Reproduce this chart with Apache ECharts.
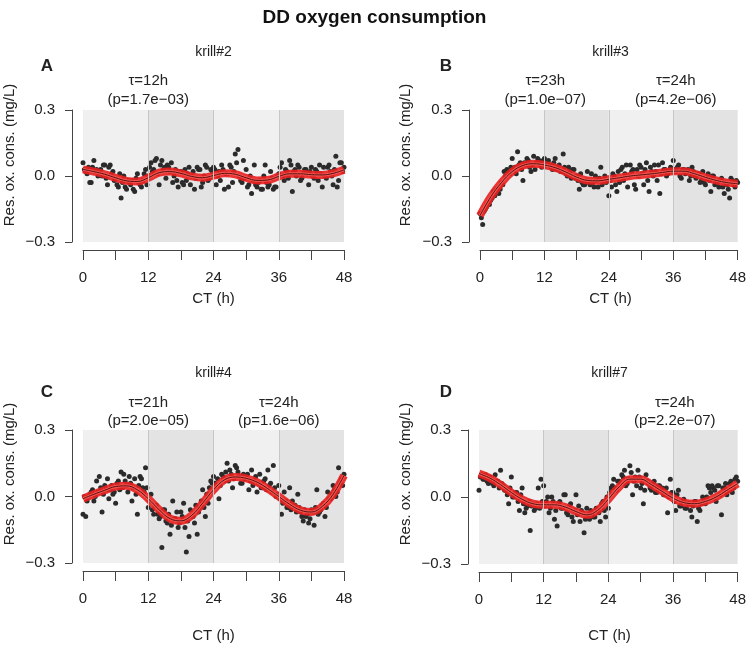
<!DOCTYPE html>
<html>
<head>
<meta charset="utf-8">
<script src="https://cdn.jsdelivr.net/npm/echarts@6/dist/echarts.min.js"></script>
<style>
  html, body { margin: 0; padding: 0; background: #fff; }
  #main { width: 749px; height: 647px; }
</style>
</head>
<body>
<div id="main"></div>
<script>
// sampling times (h) of the scatter points, on the hour and half hour
const TIMES = [0,0.5,1,1.5,2,2.5,3,3.5,4,4.5,5,5.5,6,6.5,7,7.5,8,8.5,9,9.5,10,10.5,11,11.5,
  12,12.5,13,13.5,14,14.5,15,15.5,16,16.5,17,17.5,18,18.5,19,19.5,20,20.5,21,21.5,22,22.5,23,23.5,
  24,24.5,25,25.5,26,26.5,27,27.5,28,28.5,29,29.5,30,30.5,31,31.5,32,32.5,33,33.5,34,34.5,35,35.5,
  36,36.5,37,37.5,38,38.5,39,39.5,40,40.5,41,41.5,42,42.5,43,43.5,44,44.5,45,45.5,46,46.5,47,47.5,48];
// ...and the quarter hours in between
const TIMES_Q = [0.25,0.75,1.25,1.75,2.25,2.75,3.25,3.75,4.25,4.75,5.25,5.75,6.25,6.75,7.25,7.75,8.25,8.75,9.25,9.75,10.25,10.75,11.25,11.75,
  12.25,12.75,13.25,13.75,14.25,14.75,15.25,15.75,16.25,16.75,17.25,17.75,18.25,18.75,19.25,19.75,20.25,20.75,21.25,21.75,22.25,22.75,23.25,23.75,
  24.25,24.75,25.25,25.75,26.25,26.75,27.25,27.75,28.25,28.75,29.25,29.75,30.25,30.75,31.25,31.75,32.25,32.75,33.25,33.75,34.25,34.75,35.25,35.75,
  36.25,36.75,37.25,37.75,38.25,38.75,39.25,39.75,40.25,40.75,41.25,41.75,42.25,42.75,43.25,43.75,44.25,44.75,45.25,45.75,46.25,46.75,47.25,47.75];
// times of the fitted curves
const FIT_TIMES = [0,2,4,6,8,10,12,14,16,18,20,22,24,26,28,30,32,34,36,38,40,42,44,46,48];

// residual oxygen consumption (mg/L)
const krill2 = [
  0.06,0.02,0.04,-0.03,0.07,0.03,0.02,0.00,0.05,-0.04,0.05,0.02,
  -0.01,-0.05,-0.10,0.00,-0.06,-0.03,-0.02,-0.07,0.01,-0.04,-0.02,0.03,
  0.00,0.06,0.03,0.08,-0.04,0.07,0.04,0.05,0.02,-0.03,0.03,-0.05,
  0.02,-0.04,-0.02,0.04,0.00,-0.06,0.04,0.03,-0.03,0.05,-0.02,0.03,
  0.04,-0.04,0.02,0.05,-0.06,0.01,0.05,-0.03,0.10,0.12,-0.02,0.07,
  0.03,-0.04,-0.08,0.05,-0.05,-0.02,-0.06,0.05,-0.05,0.02,-0.06,-0.05,
  0.01,0.06,-0.02,0.02,0.07,-0.07,0.03,0.05,-0.02,0.01,0.03,-0.04,
  0.04,-0.01,0.02,0.05,-0.05,0.00,0.04,0.02,-0.04,0.09,-0.02,0.06,
  0.04];
const krill2q = [
  0.03,0.01,-0.03,0.04,0.02,0.00,0.03,0.05,-0.01,0.04,0.01,-0.02,
  -0.04,0.01,-0.03,-0.05,-0.02,-0.04,-0.06,-0.01,-0.03,-0.05,0.01,-0.04,
  0.04,0.02,0.07,0.01,0.05,0.03,-0.01,0.04,0.06,0.00,-0.02,0.02,
  -0.03,0.03,0.01,-0.04,0.02,-0.01,0.03,-0.05,0.00,0.04,-0.01,0.02,
  0.03,0.00,-0.02,0.03,0.01,-0.05,0.04,0.02,0.06,0.00,-0.03,-0.01,
  -0.05,0.00,-0.02,-0.04,-0.03,-0.06,0.00,-0.03,-0.04,-0.01,-0.05,0.00,
  0.04,0.00,0.03,-0.01,0.05,0.02,0.00,0.04,-0.01,0.03,0.01,0.02,
  0.00,0.03,-0.02,0.01,0.04,-0.01,0.05,0.00,0.03,-0.05,0.06,0.02];
const krill3 = [
  -0.17,-0.22,-0.15,-0.12,-0.11,-0.07,-0.06,-0.08,-0.03,0.02,0.03,0.01,
  0.08,0.04,0.11,0.06,-0.02,0.05,0.07,0.02,0.09,0.06,0.07,0.04,
  0.08,0.06,0.05,0.03,0.08,0.04,0.02,0.10,0.01,0.04,-0.01,0.03,
  0.00,-0.06,-0.03,-0.04,0.02,-0.04,-0.03,0.00,-0.05,0.04,-0.02,-0.03,
  -0.09,-0.05,0.00,-0.07,-0.03,0.04,0.01,-0.05,0.05,0.03,-0.06,0.00,
  0.04,-0.04,0.06,-0.07,0.02,0.05,-0.02,-0.08,0.06,0.03,0.01,0.04,
  0.07,0.02,0.05,-0.01,0.03,0.02,-0.02,0.04,0.00,0.01,-0.03,0.02,
  -0.04,0.01,-0.07,0.00,-0.03,-0.05,-0.01,-0.08,-0.04,-0.10,-0.02,-0.05,
  -0.03];
const krill3q = [
  -0.19,-0.16,-0.14,-0.13,-0.10,-0.09,-0.07,-0.06,-0.04,0.00,0.02,0.04,
  0.03,0.01,0.05,0.03,0.06,0.08,0.04,0.05,0.03,0.08,0.05,0.07,
  0.05,0.07,0.04,0.06,0.03,0.05,0.02,0.04,0.00,0.02,0.03,-0.01,
  -0.02,0.01,-0.04,-0.02,-0.03,0.01,-0.05,-0.02,-0.01,-0.04,0.00,-0.02,
  -0.02,0.01,-0.04,0.02,0.03,-0.02,0.05,0.00,0.02,-0.04,0.03,0.05,
  0.01,0.03,-0.02,0.04,0.00,0.02,0.05,0.01,0.03,0.00,0.02,0.03,
  0.03,0.04,0.00,0.03,0.01,0.03,0.00,0.02,-0.01,0.01,-0.02,-0.03,
  -0.01,-0.02,0.00,-0.04,-0.03,-0.02,-0.05,-0.03,-0.06,-0.01,-0.04,-0.02];
const krill4 = [
  -0.08,-0.09,0.00,0.02,-0.02,0.07,0.09,-0.07,0.05,0.08,0.03,0.01,
  -0.03,0.07,0.11,0.10,0.05,0.09,-0.02,0.08,-0.08,0.09,0.04,0.13,
  -0.05,0.01,-0.08,-0.04,-0.10,-0.23,-0.06,-0.12,-0.17,-0.02,-0.10,-0.14,
  -0.07,-0.03,-0.25,-0.18,-0.09,-0.12,-0.17,-0.05,0.03,-0.09,-0.03,0.07,
  0.09,0.05,-0.01,0.10,0.07,0.15,0.12,0.04,0.14,0.11,0.06,0.10,
  0.09,0.03,0.12,0.07,0.02,0.10,0.04,0.08,0.12,0.06,0.14,0.00,
  0.05,-0.08,0.02,-0.05,0.04,-0.02,-0.04,0.01,-0.07,-0.11,-0.09,-0.12,
  -0.06,-0.13,0.03,-0.07,-0.04,-0.09,0.02,-0.01,0.05,0.00,0.13,0.08,
  0.10];
const krill4q = [
  0.00,-0.02,0.01,0.03,0.00,0.02,0.04,0.01,0.03,-0.01,0.05,0.02,
  0.06,0.03,0.04,0.07,0.02,0.06,0.04,0.01,0.05,0.08,0.02,0.04,
  -0.02,-0.06,-0.04,-0.08,-0.09,-0.06,-0.11,-0.08,-0.13,-0.10,-0.07,-0.12,
  -0.09,-0.14,-0.11,-0.06,-0.09,-0.04,-0.07,-0.02,-0.05,0.01,0.04,0.06,
  0.06,0.08,0.05,0.09,0.11,0.07,0.10,0.08,0.13,0.09,0.06,0.08,
  0.10,0.07,0.05,0.09,0.06,0.04,0.07,0.03,0.05,0.02,0.04,0.01,
  -0.01,-0.03,-0.02,-0.05,-0.06,-0.04,-0.07,-0.05,-0.09,-0.06,-0.08,-0.10,
  -0.07,-0.05,-0.08,-0.06,-0.03,-0.05,-0.01,0.01,0.03,0.02,0.06,0.05];
const krill7 = [
  0.03,0.10,0.08,0.07,0.09,0.06,0.10,0.07,0.12,0.05,0.03,-0.03,
  0.09,0.00,0.02,-0.06,0.04,-0.07,-0.04,-0.15,-0.03,-0.05,0.04,0.08,
  0.05,-0.02,-0.07,0.00,-0.10,-0.13,-0.02,-0.05,0.01,-0.08,-0.03,-0.11,
  0.01,-0.04,-0.06,-0.16,-0.05,-0.10,-0.07,-0.09,-0.06,-0.11,-0.02,-0.09,
  -0.05,0.04,0.08,0.03,0.07,0.10,0.12,0.06,0.14,0.01,0.09,0.12,
  0.04,-0.03,0.10,0.06,0.03,0.07,0.02,0.05,0.04,0.01,-0.07,0.08,
  0.02,-0.06,0.03,-0.04,-0.01,-0.05,-0.03,-0.09,-0.02,-0.11,-0.06,0.00,
  -0.03,0.05,0.02,0.04,-0.02,0.05,-0.08,0.04,0.01,0.06,0.02,0.08,
  0.07];
const krill7q = [
  0.09,0.08,0.10,0.06,0.08,0.05,0.07,0.04,0.06,0.03,0.01,0.04,
  0.00,0.02,-0.02,0.01,-0.03,-0.05,-0.02,-0.04,-0.06,-0.03,-0.05,-0.02,
  -0.04,0.00,-0.05,-0.02,-0.06,-0.03,-0.05,0.01,-0.07,-0.04,-0.09,-0.06,
  -0.08,-0.11,-0.07,-0.10,-0.08,-0.06,-0.09,-0.05,-0.07,-0.03,-0.06,0.00,
  0.02,0.05,0.04,0.07,0.06,0.09,0.05,0.08,0.11,0.07,0.05,0.09,
  0.06,0.03,0.07,0.04,0.06,0.02,0.05,0.03,0.01,0.04,0.00,0.02,
  -0.02,0.01,-0.04,-0.02,-0.05,-0.03,-0.06,-0.04,-0.02,-0.05,-0.03,-0.01,
  0.00,0.04,0.05,0.03,0.05,0.01,0.04,0.06,0.03,0.07,0.04,0.09];

// fitted curves
const fit2 = [0.03,0.02,0.008,-0.008,-0.022,-0.025,-0.008,0.015,0.02,0.012,-0.002,-0.008,0.002,
  0.012,0.008,-0.008,-0.02,-0.018,-0.002,0.01,0.01,0.006,0.005,0.012,0.028];
const fit3 = [-0.18,-0.095,-0.03,0.02,0.048,0.056,0.05,0.038,0.018,-0.005,-0.02,-0.022,-0.015,
  -0.008,0.0,0.005,0.01,0.016,0.022,0.022,0.01,-0.006,-0.02,-0.03,-0.035];
const fit4 = [-0.01,0.01,0.028,0.045,0.048,0.03,-0.01,-0.06,-0.1,-0.11,-0.085,-0.03,0.03,
  0.075,0.088,0.082,0.065,0.035,0.0,-0.035,-0.062,-0.07,-0.045,0.01,0.095];
const fit7 = [0.105,0.085,0.055,0.02,-0.01,-0.03,-0.035,-0.035,-0.045,-0.065,-0.08,-0.06,-0.01,
  0.045,0.08,0.08,0.055,0.025,-0.005,-0.025,-0.03,-0.02,0.0,0.03,0.06];

const PANEL_NAMES = ['krill#2', 'krill#3', 'krill#4', 'krill#7'];
const PANEL_LETTERS = ['A', 'B', 'C', 'D'];
const X_TICKS = [0, 12, 24, 36, 48];
// periodicity annotations: [panel, x centre (h), tau, p]
const TAUS = [
  [0, 12, 'τ=12h', '(p=1.7e\u221203)'],
  [1, 12, 'τ=23h', '(p=1.0e\u221207)'],
  [1, 36, 'τ=24h', '(p=4.2e\u221206)'],
  [2, 12, 'τ=21h', '(p=2.0e\u221205)'],
  [2, 36, 'τ=24h', '(p=1.6e\u221206)'],
  [3, 36, 'τ=24h', '(p=2.2e\u221207)']
];
const BANDS = [[0, 12, '#f0f0f0'], [12, 24, '#e3e3e3'], [24, 36, '#f0f0f0'], [36, 48, '#e3e3e3']];
const BAND_LINES = [12, 24, 36];

const points = [krill2, krill3, krill4, krill7];
const pointsQ = [krill2q, krill3q, krill4q, krill7q];
const fits = [fit2, fit3, fit4, fit7];

const FONT = 'Liberation Sans, Arial, sans-serif';
const grids = [
  { left: 83, top: 110, width: 261, height: 132 },
  { left: 480, top: 110, width: 261, height: 132 },
  { left: 83, top: 430, width: 261, height: 133 },
  { left: 479, top: 430, width: 261, height: 134 }
];

const xAxes = [], yAxes = [], series = [], graphics = [];

function label(x, y, text, font, rot) {
  return {
    type: 'text', x: x, y: y, rotation: rot || 0, silent: true,
    style: { text: text, font: font, fill: '#222', align: 'center', verticalAlign: 'middle' }
  };
}

grids.forEach((g, i) => {
  xAxes.push({
    gridIndex: i, type: 'value', min: 0, max: 48, interval: 6, offset: 8,
    axisLine: { show: true, onZero: false, lineStyle: { color: '#444', width: 1 } },
    axisTick: { show: true, length: 10, lineStyle: { color: '#444' } },
    axisLabel: {
      margin: 20, fontSize: 15, color: '#222', fontFamily: FONT,
      formatter: v => X_TICKS.indexOf(v) >= 0 ? String(v) : ''
    },
    splitLine: { show: false }
  });
  yAxes.push({
    gridIndex: i, type: 'value', min: -0.3, max: 0.3, interval: 0.3, offset: 11,
    axisLine: { show: true, onZero: false, lineStyle: { color: '#444', width: 1 } },
    axisTick: { show: true, length: 7, lineStyle: { color: '#444' } },
    axisLabel: {
      margin: 17, fontSize: 15, color: '#222', fontFamily: FONT,
      formatter: v => {
        const s = (Math.abs(v) < 1e-9 ? 0 : v).toFixed(1);
        return s.replace('-', '\u2212');
      }
    },
    splitLine: { show: false }
  });

  // background bands carried by an empty series
  series.push({
    type: 'line', xAxisIndex: i, yAxisIndex: i, data: [], silent: true,
    markArea: {
      silent: true,
      data: BANDS.map(b => [{ xAxis: b[0], itemStyle: { color: b[2] } }, { xAxis: b[1] }])
    },
    markLine: {
      silent: true, symbol: 'none', label: { show: false },
      lineStyle: { color: '#c6c6c6', width: 1, type: 'solid' },
      data: BAND_LINES.map(v => ({ xAxis: v }))
    }
  });

  const pts = TIMES.map((t, k) => [t, points[i][k]])
    .concat(TIMES_Q.map((t, k) => [t, pointsQ[i][k]]));
  series.push({
    type: 'scatter', xAxisIndex: i, yAxisIndex: i, symbolSize: 5, z: 3,
    itemStyle: { color: '#2b2b2b', opacity: 1 },
    data: pts
  });

  const fitData = FIT_TIMES.map((t, k) => [t, fits[i][k]]);
  series.push({
    type: 'line', xAxisIndex: i, yAxisIndex: i, data: fitData, smooth: 0.4,
    symbol: 'none', silent: true, z: 4,
    lineStyle: { color: '#ea2020', width: 8, opacity: 0.9 }
  });
  series.push({
    type: 'line', xAxisIndex: i, yAxisIndex: i, data: fitData, smooth: 0.4,
    symbol: 'none', silent: true, z: 4,
    lineStyle: { color: '#f25550', width: 3 }
  });
  series.push({
    type: 'line', xAxisIndex: i, yAxisIndex: i, data: fitData, smooth: 0.4,
    symbol: 'none', silent: true, z: 4,
    lineStyle: { color: '#5a1010', width: 1 }
  });

  const cx = g.left + g.width / 2;
  const top = i < 2;
  graphics.push(label(cx, top ? 52 : 373, PANEL_NAMES[i], '14px ' + FONT));
  graphics.push(label(i % 2 ? 446 : 47, top ? 66 : 392, PANEL_LETTERS[i], 'bold 17px ' + FONT));
  graphics.push(label(cx, top ? 299 : 636, 'CT (h)', '15px ' + FONT));
  graphics.push(label(i % 2 ? 406 : 10, top ? 155 : 474, 'Res. ox. cons. (mg/L)', '15px ' + FONT, Math.PI / 2));
});

TAUS.forEach(a => {
  const g = grids[a[0]];
  const x = g.left + a[1] / 48 * g.width;
  const top = a[0] < 2;
  graphics.push(label(x, top ? 81 : 403, a[2], '15px ' + FONT));
  graphics.push(label(x, top ? 100 : 421, a[3], '15px ' + FONT));
});

const chart = echarts.init(document.getElementById('main'), null, { renderer: 'canvas' });
chart.setOption({
  animation: false,
  backgroundColor: '#ffffff',
  title: {
    text: 'DD oxygen consumption', left: 'center', top: 3,
    textStyle: { fontSize: 19, fontWeight: 'bold', color: '#111', fontFamily: FONT }
  },
  grid: grids,
  xAxis: xAxes,
  yAxis: yAxes,
  series: series,
  graphic: graphics
});
</script>
</body>
</html>
